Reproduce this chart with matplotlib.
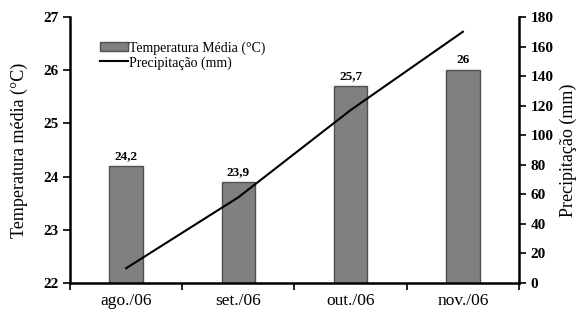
import numpy as np
import matplotlib.pyplot as plt

plt.rcParams['font.family'] = ['Liberation Serif', 'DejaVu Serif']

meses = ['ago./06', 'set./06', 'out./06', 'nov./06']
temperatura = [24.2, 23.9, 25.7, 26.0]
rotulos = ['24,2', '23,9', '25,7', '26']
precipitacao = [10, 58, 117, 170]

fig = plt.figure(figsize=(5.8, 3.14), dpi=100)
ax = fig.add_axes([0.1207, 0.0987, 0.7741, 0.8472])
ax2 = ax.twinx()

x = np.arange(len(meses))
barras = ax.bar(x, [t - 22 for t in temperatura], bottom=22, width=0.3,
                color='#808080', edgecolor='#505050', linewidth=1,
                label='Temperatura Média (°C)')
for xi, t, r in zip(x, temperatura, rotulos):
    ax.text(xi, t + 0.08, r, ha='center', va='bottom', fontsize=9.5, fontweight='bold')

linha, = ax2.plot(x, precipitacao, color='black', linewidth=1.5,
                  label='Precipitação (mm)')

ax.set_xlim(-0.5, 3.5)
ax.set_ylim(22, 27)
ax2.set_ylim(0, 180)
ax.set_yticks([22, 23, 24, 25, 26, 27])
ax2.set_yticks(range(0, 181, 20))
ax.set_xticks([-0.5, 0.5, 1.5, 2.5, 3.5], minor=False)
ax.set_xticklabels([])
ax.set_xticks(x, minor=True)
ax.set_xticklabels(meses, minor=True, fontsize=12.5)
ax.tick_params(axis='x', which='minor', length=0, pad=7)
ax.tick_params(axis='x', which='major', length=5, width=1.2, direction='out')

for a in (ax, ax2):
    a.spines['top'].set_visible(False)
    for s in ('left', 'right', 'bottom'):
        a.spines[s].set_linewidth(1.8)
ax.spines['right'].set_visible(False)
ax2.spines['left'].set_visible(False)
ax2.spines['bottom'].set_visible(False)

ax.tick_params(axis='y', length=5, width=1.2, labelsize=11)
ax2.tick_params(axis='y', length=5, width=1.2, labelsize=11)
for lbl in ax.get_yticklabels() + ax2.get_yticklabels():
    lbl.set_fontweight('bold')

ax.set_ylabel('Temperatura média (°C)', fontsize=13, labelpad=11)
ax2.set_ylabel('Precipitação (mm)', fontsize=13, labelpad=4)

ax.legend([barras, linha], ['Temperatura Média (°C)', 'Precipitação (mm)'],
          loc='upper left', bbox_to_anchor=(0.055, 0.93), frameon=False,
          fontsize=10, handlelength=2.0, handletextpad=0.1, labelspacing=0.1,
          borderaxespad=0)

fig.savefig('out.png', dpi=100)
